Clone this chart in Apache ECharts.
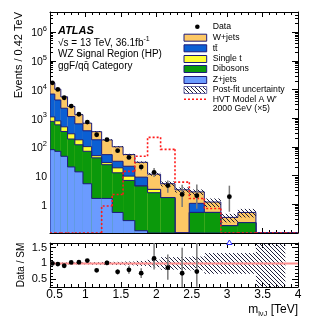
<!DOCTYPE html>
<html>
<head>
<meta charset="utf-8">
<script src="https://cdn.jsdelivr.net/npm/echarts@6.0.0/dist/echarts.min.js"></script>
<style>
html,body{margin:0;padding:0;background:#fff;}
#chart{width:332px;height:319px;}
</style>
</head>
<body>
<div id="chart"></div>
<script>
// ---------------- data ----------------
const binEdges = [0.50, 0.568, 0.653, 0.748, 0.851, 0.965, 1.088, 1.229, 1.378, 1.531, 1.697,
                  1.877, 2.061, 2.264, 2.466, 2.678, 2.911, 3.152, 3.406, 3.821, 4.00];
const zJets     = [80, 70, 47, 20, 13.5, 5.2, 1.6, 1.6, 0.52, 0.27, 0.12, 0, 0, 0, 0, 0, 0, 0, 0, 0];
const dibosons  = [695, 516, 297, 168, 105, 65, 40, 22.4, 12, 6.5, 4.2, 2.54, 1.71, 0, 0.52, 0.52, 0.18, 0.23, 0.03, 0];
const singleTop = [334, 221, 156, 98, 58, 32, 8, 4.4, 6.1, 2.8, 0.1, 0.76, 0, 0, 0, 0, 0, 0, 0, 0];
const ttbar     = [5820, 3490, 1718, 850, 458, 262, 127, 25.3, 12.9, 11.6, 4.4, 0, 0, 0, 0.56, 0, 0, 0, 0, 0];
const wJets     = [10070, 5900, 3340, 1434, 685, 306, 163, 121, 69.5, 32.9, 20.2, 7.9, 3.5, 3.2, 1.62, 0.68, 0.17, 0.29, 0.02, 0];
const dataValues  = [17000, 10000, 5150, 2650, 1370, 730, 265, 178, 74, 43, 20, 13, 4.5, 2.2, 2.0, null, 1.85, null, null, null];
const dataErrLow  = [130, 100, 72, 51, 37, 27, 16, 13, 8.6, 6.6, 4.5, 4.0, 2.0, 1.4, 1.3, 0, 1.3, 0, 0, 0];
const dataErrHigh = [130, 100, 72, 51, 37, 27, 16, 13, 8.6, 6.6, 4.5, 5.5, 2.2, 2.6, 2.9, 0, 2.6, 0, 0, 0];
const relUncertainty = [0.03, 0.03, 0.03, 0.03, 0.03, 0.03, 0.04, 0.05, 0.05, 0.06, 0.08, 0.12, 0.2, 0.2, 0.22, 0.33, 0.33, 0.33, 1.0, 0];
const signalX5 = [0, 0, 0, 0, 0, 0, 0, 0.87, 2.2, 14, 47, 215, 82, 5.9, 1.6, 0.71, 0, 0, 0, 0];
const xTickLabels = [0.5, 1, 1.5, 2, 2.5, 3, 3.5, 4];
const yMainLabels = [1, 10, 100, 1000, 10000, 100000, 1000000];
const yRatioLabels = [0.5, 1, 1.5];

// ---------------- settings ----------------
const FONT = '"Liberation Sans", Arial, Helvetica, sans-serif';
const X_MIN = 0.5, X_MAX = 4;
const Y_MIN = 0.1, Y_MAX = 5e6;
const R_MIN = 0.25, R_MAX = 1.65;
const OUTLINE = '#1c1c7c';
const nBins = binEdges.length - 1;

const components = [
  {name: 'Z+jets',   values: zJets,     color: '#6b9bff'},
  {name: 'Dibosons', values: dibosons,  color: '#0b990b'},
  {name: 'Single t', values: singleTop, color: '#ffff33'},
  {name: 'tt\u0304', values: ttbar,     color: '#0b5fd3'},
  {name: 'W+jets',   values: wJets,     color: '#fdc865'}
];
let running = new Array(nBins).fill(0);
components.forEach(c => { running = running.map((r, i) => r + c.values[i]); c.cum = running.slice(); });
const total = components[components.length - 1].cum;

function makeHatch() {
  const c = document.createElement('canvas');
  c.width = 4; c.height = 4;
  const g = c.getContext('2d');
  g.strokeStyle = 'rgba(20,20,50,0.95)';
  g.lineWidth = 1;
  g.beginPath();
  g.moveTo(-1, -1); g.lineTo(5, 5);
  g.moveTo(-1, 3); g.lineTo(1, 5);
  g.moveTo(3, -1); g.lineTo(5, 1);
  g.stroke();
  return c;
}
const hatch = {type: 'pattern', image: makeHatch(), repeat: 'repeat'};

// ---------------- series ----------------
const series = [];
components.slice().reverse().forEach(c => {
  series.push({
    type: 'custom', name: c.name, xAxisIndex: 0, yAxisIndex: 0, clip: true,
    encode: {x: [0, 1], y: 2},
    data: c.cum.map((v, i) => [binEdges[i], binEdges[i + 1], v, i > 0 ? c.cum[i - 1] : 0]),
    renderItem: (p, api) => {
      const x0 = api.value(0), x1 = api.value(1), top = api.value(2), prev = api.value(3);
      const bl = api.coord([x0, Y_MIN]);
      const tl = api.coord([x0, Math.max(top, Y_MIN)]);
      const tr = api.coord([x1, Math.max(top, Y_MIN)]);
      const pv = api.coord([x0, Math.max(prev, Y_MIN)]);
      const ch = [];
      if (top > Y_MIN) ch.push({type: 'rect', shape: {x: bl[0], y: tl[1], width: tr[0] - bl[0], height: bl[1] - tl[1]}, style: {fill: c.color}});
      ch.push({type: 'polyline', shape: {points: [pv, tl, tr]}, style: {stroke: OUTLINE, lineWidth: 1, fill: null}});
      return {type: 'group', children: ch};
    }
  });
});
// uncertainty band on the stack
series.push({
  type: 'custom', name: 'band', xAxisIndex: 0, yAxisIndex: 0, clip: true, encode: {x: [0, 1], y: 3},
  data: total.map((t, i) => [binEdges[i], binEdges[i + 1], t * (1 - relUncertainty[i]), t * (1 + relUncertainty[i])]).filter(d => d[3] > 0),
  renderItem: (p, api) => {
    const a = api.coord([api.value(0), api.value(3)]);
    const b = api.coord([api.value(1), Math.max(api.value(2), Y_MIN)]);
    return {type: 'rect', shape: {x: a[0], y: a[1], width: b[0] - a[0], height: b[1] - a[1]}, style: {fill: hatch}};
  }
});
// signal
series.push({
  type: 'custom', name: 'signal', xAxisIndex: 0, yAxisIndex: 0, clip: true, encode: {x: [0, 1], y: 2},
  data: signalX5.map((v, i) => [binEdges[i], binEdges[i + 1], v, i > 0 ? signalX5[i - 1] : 0]),
  renderItem: (p, api) => {
    const v = Math.max(api.value(2), Y_MIN), pr = Math.max(api.value(3), Y_MIN);
    const pts = [api.coord([api.value(0), pr]), api.coord([api.value(0), v]), api.coord([api.value(1), v])];
    return {type: 'polyline', shape: {points: pts}, style: {stroke: '#ff1a1a', lineWidth: 1.6, lineDash: [2, 2], fill: null}};
  }
});
// data points
const dataItems = [];
dataValues.forEach((v, i) => { if (v != null) dataItems.push([(binEdges[i] + binEdges[i + 1]) / 2, v, dataErrLow[i], dataErrHigh[i]]); });
series.push({
  type: 'custom', name: 'Data', xAxisIndex: 0, yAxisIndex: 0, clip: true, encode: {x: 0, y: 1},
  data: dataItems,
  renderItem: (p, api) => {
    const x = api.value(0), y = api.value(1);
    const c = api.coord([x, y]);
    const lo = api.coord([x, Math.max(y - api.value(2), Y_MIN)]);
    const hi = api.coord([x, y + api.value(3)]);
    return {type: 'group', children: [
      {type: 'line', shape: {x1: lo[0], y1: lo[1], x2: hi[0], y2: hi[1]}, style: {stroke: '#7a7a7a', lineWidth: 1.5}},
      {type: 'circle', shape: {cx: c[0], cy: c[1], r: 2.4}, style: {fill: '#000'}}
    ]};
  }
});
// ratio band
series.push({
  type: 'custom', name: 'ratioBand', xAxisIndex: 2, yAxisIndex: 4, clip: true, encode: {x: [0, 1], y: 3},
  data: total.map((t, i) => [binEdges[i], binEdges[i + 1], 1 - relUncertainty[i], 1 + relUncertainty[i]]).filter((d, i) => total[i] > 0),
  renderItem: (p, api) => {
    const a = api.coord([api.value(0), api.value(3)]);
    const b = api.coord([api.value(1), api.value(2)]);
    return {type: 'rect', shape: {x: a[0], y: a[1], width: b[0] - a[0], height: b[1] - a[1]}, style: {fill: hatch}};
  }
});
// ratio = 1 line
series.push({
  type: 'line', xAxisIndex: 2, yAxisIndex: 4, data: [[X_MIN, 1], [X_MAX, 1]], symbol: 'none',
  lineStyle: {color: '#ff8f8f', width: 2}, silent: true, z: 3
});
// ratio points
const ratioItems = [];
dataValues.forEach((v, i) => {
  if (v != null && total[i] > 0) ratioItems.push([(binEdges[i] + binEdges[i + 1]) / 2, v / total[i], dataErrLow[i] / total[i], dataErrHigh[i] / total[i]]);
});
series.push({
  type: 'custom', name: 'ratio', xAxisIndex: 2, yAxisIndex: 4, clip: true, encode: {x: 0, y: 1}, z: 4,
  data: ratioItems.filter(d => d[1] <= R_MAX),
  renderItem: (p, api) => {
    const x = api.value(0), y = api.value(1);
    const c = api.coord([x, y]);
    const lo = api.coord([x, y - api.value(2)]);
    const hi = api.coord([x, y + api.value(3)]);
    return {type: 'group', children: [
      {type: 'line', shape: {x1: lo[0], y1: lo[1], x2: hi[0], y2: hi[1]}, style: {stroke: '#7a7a7a', lineWidth: 1.5}},
      {type: 'circle', shape: {cx: c[0], cy: c[1], r: 2.4}, style: {fill: '#000'}}
    ]};
  }
});
series.push({
  type: 'custom', name: 'ratioOverflow', xAxisIndex: 2, yAxisIndex: 4, clip: false, encode: {x: 0, y: 1}, z: 5,
  data: ratioItems.filter(d => d[1] > R_MAX),
  renderItem: (p, api) => {
    const c = api.coord([api.value(0), R_MAX]);
    return {type: 'polygon', shape: {points: [[c[0], c[1] - 3], [c[0] - 2.6, c[1] + 1.5], [c[0] + 2.6, c[1] + 1.5]]},
            style: {fill: '#fff', stroke: '#2b2bff', lineWidth: 1}};
  }
});

// ---------------- axes ----------------
const blackLine = {lineStyle: {color: '#000', width: 1}};
function xAx(grid, pos, labels) {
  return {
    type: 'value', gridIndex: grid, position: pos, min: X_MIN, max: X_MAX, interval: 0.5,
    axisLine: Object.assign({show: true, onZero: false}, blackLine),
    axisTick: {show: true, inside: true, length: 5, lineStyle: {color: '#000'}},
    minorTick: {show: true, splitNumber: 5, length: 3, lineStyle: {color: '#000'}},
    splitLine: {show: false}, minorSplitLine: {show: false},
    axisLabel: labels ? {
      show: true, color: '#000', fontFamily: FONT, fontSize: 12, margin: 2, showMinLabel: true, showMaxLabel: true,
      formatter: v => v === 0.5 ? '{p|0.5}' : '{n|' + v + '}',
      rich: {p: {fontSize: 12, fontFamily: FONT, color: '#000', padding: [0, 0, 0, 9]}, n: {fontSize: 12, fontFamily: FONT, color: '#000'}}
    } : {show: false}
  };
}
const minorLog = [];
for (let e = -1; e <= 6; e++) for (let m = 2; m <= 9; m++) { const v = m * Math.pow(10, e); if (v < Y_MAX) minorLog.push(v); }
const majorLog = [0.1].concat(yMainLabels);
const minorRatio = [];
for (let k = 3; k <= 16; k++) minorRatio.push(k / 10);

function yLog(pos, ticks, len, labels, line) {
  return {
    type: 'log', logBase: 10, gridIndex: 0, position: pos, min: Y_MIN, max: Y_MAX,
    axisLine: Object.assign({show: line, onZero: false}, blackLine),
    axisTick: {show: true, inside: true, length: len, customValues: ticks, lineStyle: {color: '#000'}},
    minorTick: {show: false}, splitLine: {show: false},
    axisLabel: labels ? {
      show: true, customValues: yMainLabels, margin: 3, color: '#000',
      formatter: v => { const e = Math.round(Math.log10(v)); return e === 0 ? '{b|1}' : e === 1 ? '{b|10}' : '{b|10}{s|' + e + '}'; },
      rich: {
        b: {fontSize: 10.5, fontFamily: FONT, color: '#000', lineHeight: 14, verticalAlign: 'bottom'},
        s: {fontSize: 7.5, fontFamily: FONT, color: '#000', lineHeight: 14, verticalAlign: 'top'}
      }
    } : {show: false}
  };
}
function yRatio(pos, ticks, len, labels, line) {
  return {
    type: 'value', gridIndex: 1, position: pos, min: R_MIN, max: R_MAX,
    axisLine: Object.assign({show: line, onZero: false}, blackLine),
    axisTick: {show: true, inside: true, length: len, customValues: ticks, lineStyle: {color: '#000'}},
    minorTick: {show: false}, splitLine: {show: false},
    axisLabel: labels ? {show: true, customValues: yRatioLabels, margin: 3, color: '#000', fontFamily: FONT, fontSize: 11} : {show: false}
  };
}

// ---------------- legend & text ----------------
const LX0 = 184, LX1 = 206.7, LT = 212.7;
const legendRows = [
  {y: 26.7, kind: 'dot', text: 'Data'},
  {y: 37.7, kind: 'box', color: '#fdc865', text: 'W+jets'},
  {y: 48.3, kind: 'box', color: '#0b5fd3', text: 'tt\u0304'},
  {y: 59,   kind: 'box', color: '#ffff33', text: 'Single t'},
  {y: 69,   kind: 'box', color: '#0b990b', text: 'Dibosons'},
  {y: 80,   kind: 'box', color: '#6b9bff', text: 'Z+jets'},
  {y: 90,   kind: 'hatch', text: 'Post-fit uncertainty'},
  {y: 99.3, kind: 'line', text: 'HVT Model A W\u2032'},
  {y: 108.7, kind: 'none', text: '2000 GeV (\u00d75)'}
];
const graphic = [];
legendRows.forEach(r => {
  if (r.kind === 'dot') graphic.push({type: 'circle', shape: {cx: (LX0 + LX1) / 2 + 2, cy: r.y, r: 2.3}, style: {fill: '#000'}});
  if (r.kind === 'box') graphic.push({type: 'rect', shape: {x: LX0, y: r.y - 3.5, width: LX1 - LX0, height: 7}, style: {fill: r.color, stroke: OUTLINE, lineWidth: 1}});
  if (r.kind === 'hatch') graphic.push({type: 'rect', shape: {x: LX0, y: r.y - 3.5, width: LX1 - LX0, height: 7}, style: {fill: hatch, stroke: '#6a6aa8', lineWidth: 1}});
  if (r.kind === 'line') graphic.push({type: 'line', shape: {x1: LX0, y1: r.y, x2: LX1, y2: r.y}, style: {stroke: '#ff1a1a', lineWidth: 1.6, lineDash: [2, 2]}});
  graphic.push({type: 'text', x: LT, y: r.y, style: {text: r.text, font: '8.7px ' + FONT, fill: '#000', align: 'left', verticalAlign: 'middle', textAlign: 'left', textVerticalAlign: 'middle'}});
});
const txt = (x, y, text, font, extra) => Object.assign({type: 'text', x: x, y: y, style: Object.assign({text: text, font: font, fill: '#000', align: 'left', verticalAlign: 'middle', textAlign: 'left', textVerticalAlign: 'middle'}, extra || {})});
graphic.push(txt(58, 31, 'ATLAS', 'italic bold 11px ' + FONT));
graphic.push({type: 'text', x: 58, y: 42, style: {
  text: '{a|\u221As = 13 TeV, 36.1fb}{s|-1}', fill: '#000', align: 'left', verticalAlign: 'middle', textAlign: 'left', textVerticalAlign: 'middle',
  rich: {a: {fontSize: 10, fontFamily: FONT, fill: '#000', color: '#000', lineHeight: 12, verticalAlign: 'bottom'},
         s: {fontSize: 7, fontFamily: FONT, fill: '#000', color: '#000', lineHeight: 12, verticalAlign: 'top'}}
}});
graphic.push(txt(58, 54, 'WZ Signal Region (HP)', '10px ' + FONT));
graphic.push(txt(58, 66, 'ggF/qq\u0304 Category', '10px ' + FONT));
graphic.push({type: 'text', x: 19, y: 12, rotation: Math.PI / 2, style: {text: 'Events / 0.42 TeV', font: '11px ' + FONT, fill: '#000', align: 'right', verticalAlign: 'middle', textAlign: 'right', textVerticalAlign: 'middle'}});
graphic.push({type: 'text', x: 21, y: 265, rotation: Math.PI / 2, style: {text: 'Data / SM', font: '10px ' + FONT, fill: '#000', align: 'center', verticalAlign: 'middle', textAlign: 'center', textVerticalAlign: 'middle'}});
graphic.push({type: 'text', x: 298, y: 311, style: {
  text: '{m|m}{s|l\u03bdJ}{m| [TeV]}', fill: '#000', align: 'right', verticalAlign: 'middle', textAlign: 'right', textVerticalAlign: 'middle',
  rich: {m: {fontSize: 12, fontFamily: FONT, color: '#000', fill: '#000', lineHeight: 14, verticalAlign: 'top'},
         s: {fontSize: 7.5, fontFamily: FONT, color: '#000', fill: '#000', lineHeight: 14, verticalAlign: 'bottom'}}
}});

const option = {
  animation: false,
  backgroundColor: '#fff',
  grid: [
    {left: 50, top: 12, width: 248, height: 221, outerBoundsMode: 'none', containLabel: false},
    {left: 50, top: 243, width: 248, height: 44, outerBoundsMode: 'none', containLabel: false}
  ],
  xAxis: [xAx(0, 'bottom', false), xAx(0, 'top', false), xAx(1, 'bottom', true), xAx(1, 'top', false)],
  yAxis: [
    yLog('left', majorLog, 6, true, true), yLog('left', minorLog, 3, false, false),
    yLog('right', majorLog, 6, false, true), yLog('right', minorLog, 3, false, false),
    yRatio('left', yRatioLabels, 6, true, true), yRatio('left', minorRatio, 3, false, false),
    yRatio('right', yRatioLabels, 6, false, true), yRatio('right', minorRatio, 3, false, false)
  ],
  series: series,
  graphic: graphic
};
const chart = echarts.init(document.getElementById('chart'), null, {renderer: 'canvas'});
chart.setOption(option);
</script>
</body>
</html>
